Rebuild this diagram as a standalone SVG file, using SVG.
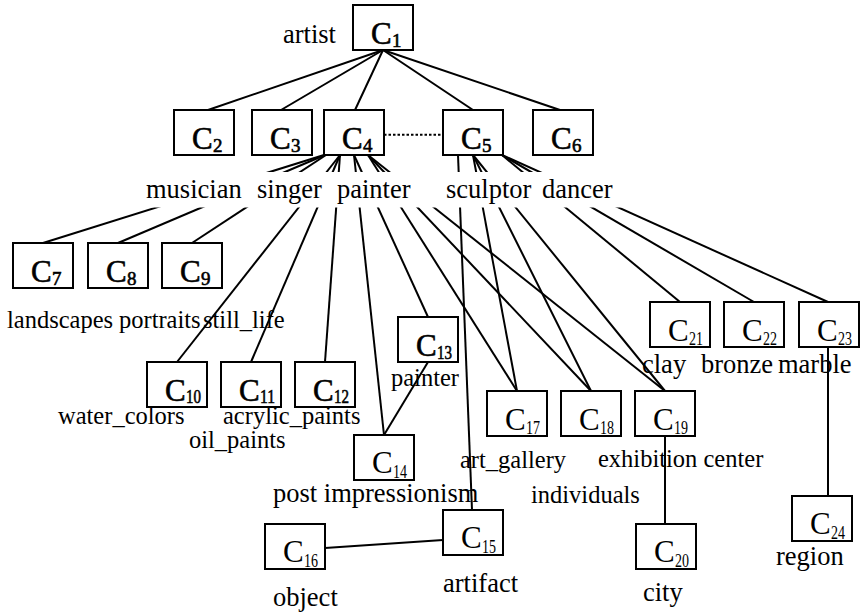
<svg xmlns="http://www.w3.org/2000/svg" width="862" height="615" viewBox="0 0 862 615">
<style>
  .box { fill: #fff; stroke: #000; stroke-width: 2; }
  .edge { stroke: #000; stroke-width: 2; fill: none; }
  .dot { stroke-dasharray: 2.5 2; }
  text { font-family: "Liberation Serif", "Times New Roman", serif; fill: #000; }
  .c { font-size: 31px; }
  .b { stroke: #000; stroke-width: 0.6; }
  .sub { font-size: 19px; }
  .lbl { font-size: 24.5px; }
  .big { font-size: 26.5px; }
</style>
<defs>
  <mask id="gap" maskUnits="userSpaceOnUse" x="0" y="0" width="862" height="615">
    <rect x="0" y="0" width="862" height="615" fill="#fff"/>
    <rect x="135" y="172" width="495" height="35.5" fill="#000"/>
  </mask>
</defs>
<rect x="0" y="0" width="862" height="615" fill="#fff"/>

<g id="connectors">
  <line class="edge" x1="383" y1="50" x2="208" y2="110"/>
  <line class="edge" x1="383" y1="50" x2="281" y2="110"/>
  <line class="edge" x1="383" y1="50" x2="355" y2="110"/>
  <line class="edge" x1="383" y1="50" x2="473" y2="110"/>
  <line class="edge" x1="383" y1="50" x2="560" y2="110"/>
  <line class="edge dot" x1="384" y1="134.7" x2="443" y2="134.7"/>
  <g mask="url(#gap)">
    <line class="edge" x1="324" y1="155" x2="43" y2="243"/>
    <line class="edge" x1="325" y1="155" x2="118" y2="243"/>
    <line class="edge" x1="326" y1="155" x2="192" y2="243"/>
    <line class="edge" x1="340" y1="155" x2="177" y2="362"/>
    <line class="edge" x1="340" y1="155" x2="251" y2="362"/>
    <line class="edge" x1="340" y1="155" x2="325" y2="362"/>
    <line class="edge" x1="354" y1="155" x2="428" y2="317"/>
    <line class="edge" x1="354" y1="155" x2="384" y2="435"/>
    <line class="edge" x1="368" y1="155" x2="517" y2="391"/>
    <line class="edge" x1="368" y1="155" x2="591" y2="391"/>
    <line class="edge" x1="368" y1="155" x2="665" y2="391"/>
    <line class="edge" x1="458" y1="155" x2="472" y2="510"/>
    <line class="edge" x1="473" y1="155" x2="517" y2="391"/>
    <line class="edge" x1="473" y1="155" x2="591" y2="391"/>
    <line class="edge" x1="473" y1="155" x2="665" y2="391"/>
    <line class="edge" x1="502" y1="155" x2="680" y2="302"/>
    <line class="edge" x1="502" y1="155" x2="754" y2="302"/>
    <line class="edge" x1="502" y1="155" x2="828" y2="302"/>
  </g>
  <line class="edge" x1="428" y1="362" x2="384" y2="435"/>
  <line class="edge" x1="325" y1="548" x2="443" y2="540"/>
  <line class="edge" x1="665" y1="436" x2="665" y2="524"/>
  <line class="edge" x1="828" y1="347" x2="828" y2="496"/>
</g>

<g id="C1"><rect class="box" x="353" y="5" width="60" height="45"/><text class="c b" x="371" y="44">C</text><text class="sub b" x="392" y="47">1</text><text class="big" x="283" y="43">artist</text></g>
<g id="C2"><rect class="box" x="174" y="110" width="60" height="45"/><text class="c b" x="192" y="149">C</text><text class="sub b" x="213" y="152">2</text><text class="big" x="146" y="198">musician</text></g>
<g id="C3"><rect class="box" x="252" y="110" width="60" height="45"/><text class="c b" x="270" y="149">C</text><text class="sub b" x="291" y="152">3</text><text class="big" x="257" y="198">singer</text></g>
<g id="C4"><rect class="box" x="324" y="110" width="60" height="45"/><text class="c b" x="342" y="149">C</text><text class="sub b" x="363" y="152">4</text><text class="big" x="337" y="198">painter</text></g>
<g id="C5"><rect class="box" x="443" y="110" width="60" height="45"/><text class="c b" x="461" y="149">C</text><text class="sub b" x="482" y="152">5</text><text class="big" x="446" y="198">sculptor</text></g>
<g id="C6"><rect class="box" x="533" y="110" width="60" height="45"/><text class="c b" x="551" y="149">C</text><text class="sub b" x="572" y="152">6</text><text class="big" x="542" y="198">dancer</text></g>

<g id="C7"><rect class="box" x="13" y="243" width="60" height="45"/><text class="c b" x="31" y="282">C</text><text class="sub b" x="52" y="285">7</text><text class="lbl" x="7" y="328">landscapes</text></g>
<g id="C8"><rect class="box" x="88" y="243" width="60" height="45"/><text class="c b" x="106" y="282">C</text><text class="sub b" x="127" y="285">8</text><text class="lbl" x="119" y="328">portraits</text></g>
<g id="C9"><rect class="box" x="162" y="243" width="60" height="45"/><text class="c b" x="180" y="282">C</text><text class="sub b" x="201" y="285">9</text><text class="lbl" x="203" y="328">still_life</text></g>

<g id="C10"><rect class="box" x="147" y="362" width="60" height="45"/><text class="c b" x="165" y="401">C</text><text class="sub b" x="186" y="403" textLength="15" lengthAdjust="spacingAndGlyphs">10</text><text class="lbl" x="58" y="424">water_colors</text></g>
<g id="C11"><rect class="box" x="221" y="362" width="60" height="45"/><text class="c b" x="239" y="401">C</text><text class="sub b" x="260" y="403" textLength="15" lengthAdjust="spacingAndGlyphs">11</text><text class="lbl" x="223" y="424">acrylic_paints</text></g>
<g id="C12"><rect class="box" x="295" y="362" width="60" height="45"/><text class="c b" x="313" y="401">C</text><text class="sub b" x="334" y="403" textLength="15" lengthAdjust="spacingAndGlyphs">12</text><text class="lbl" x="189" y="448">oil_paints</text></g>
<g id="C13"><rect class="box" x="398" y="317" width="60" height="45"/><text class="c b" x="416" y="356">C</text><text class="sub b" x="437" y="359" textLength="15" lengthAdjust="spacingAndGlyphs">13</text><text class="lbl" x="391" y="386">painter</text></g>

<g id="C14"><rect class="box" x="354" y="435" width="60" height="45"/><text class="c" x="372" y="473">C</text><text class="sub" x="393" y="478" textLength="14" lengthAdjust="spacingAndGlyphs">14</text><text class="big" x="273" y="502">post impressionism</text></g>
<g id="C15"><rect class="box" x="443" y="510" width="60" height="45"/><text class="c" x="461" y="548">C</text><text class="sub" x="482" y="553" textLength="14" lengthAdjust="spacingAndGlyphs">15</text><text class="big" x="443" y="592">artifact</text></g>
<g id="C16"><rect class="box" x="265" y="524" width="60" height="45"/><text class="c" x="283" y="562">C</text><text class="sub" x="304" y="567" textLength="14" lengthAdjust="spacingAndGlyphs">16</text><text class="big" x="273" y="606">object</text></g>

<g id="C17"><rect class="box" x="487" y="391" width="60" height="45"/><text class="c" x="505" y="430">C</text><text class="sub" x="526" y="434" textLength="14" lengthAdjust="spacingAndGlyphs">17</text><text class="lbl" x="460" y="468">art_gallery</text></g>
<g id="C18"><rect class="box" x="561" y="391" width="60" height="45"/><text class="c" x="579" y="430">C</text><text class="sub" x="600" y="434" textLength="14" lengthAdjust="spacingAndGlyphs">18</text><text class="lbl" x="531" y="503">individuals</text></g>
<g id="C19"><rect class="box" x="635" y="391" width="60" height="45"/><text class="c" x="653" y="430">C</text><text class="sub" x="674" y="434" textLength="14" lengthAdjust="spacingAndGlyphs">19</text><text class="lbl" x="598" y="467">exhibition center</text></g>
<g id="C20"><rect class="box" x="636" y="524" width="60" height="45"/><text class="c" x="654" y="562">C</text><text class="sub" x="675" y="567" textLength="14" lengthAdjust="spacingAndGlyphs">20</text><text class="big" x="643" y="601">city</text></g>

<g id="C21"><rect class="box" x="650" y="302" width="60" height="45"/><text class="c" x="668" y="341">C</text><text class="sub" x="689" y="345" textLength="14" lengthAdjust="spacingAndGlyphs">21</text><text class="big" x="642" y="373">clay</text></g>
<g id="C22"><rect class="box" x="724" y="302" width="60" height="45"/><text class="c" x="742" y="341">C</text><text class="sub" x="763" y="345" textLength="14" lengthAdjust="spacingAndGlyphs">22</text><text class="big" x="701" y="373">bronze</text></g>
<g id="C23"><rect class="box" x="799" y="302" width="60" height="45"/><text class="c" x="817" y="341">C</text><text class="sub" x="838" y="345" textLength="14" lengthAdjust="spacingAndGlyphs">23</text><text class="big" x="778" y="373">marble</text></g>
<g id="C24"><rect class="box" x="792" y="496" width="60" height="45"/><text class="c" x="810" y="534">C</text><text class="sub" x="831" y="539" textLength="14" lengthAdjust="spacingAndGlyphs">24</text><text class="big" x="776" y="565">region</text></g>
</svg>
